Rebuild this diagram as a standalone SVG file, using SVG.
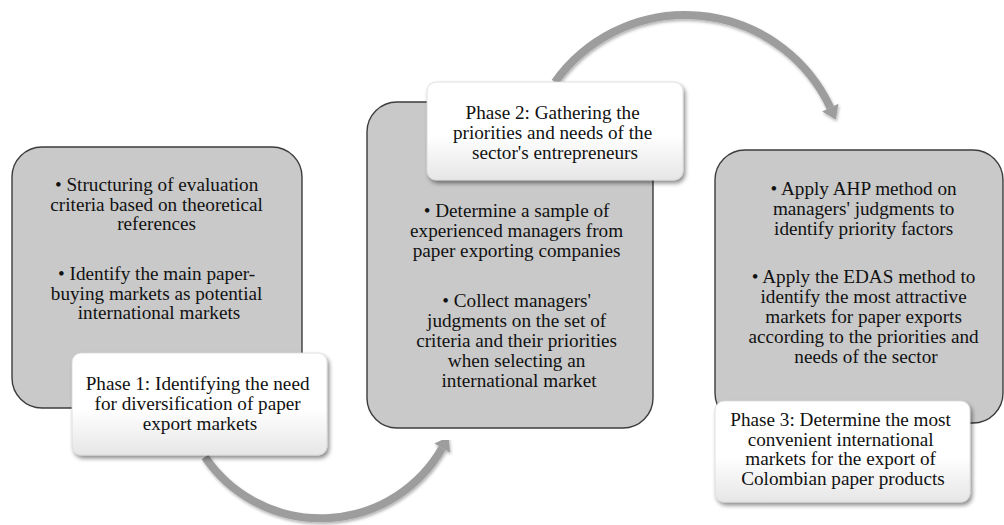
<svg xmlns="http://www.w3.org/2000/svg" width="1004" height="525" viewBox="0 0 1004 525">
  <style>
    .box { fill: #c9c9c9; stroke: #3c3c3c; stroke-width: 1.4; }
    .label { fill: url(#labelGrad); stroke: #d8d8d8; stroke-width: 0.8; filter: url(#shadow); }
    .txt { font-family: "Liberation Serif", "Times New Roman", serif; font-size: 19.2px; fill: #111; text-anchor: middle; }
    .arrow { fill: none; stroke: #9d9d9d; stroke-width: 8; filter: url(#ashadow); }
  </style>
  <defs>
    <linearGradient id="labelGrad" x1="0" y1="0" x2="0" y2="1">
      <stop offset="0" stop-color="#ffffff"/>
      <stop offset="0.55" stop-color="#ffffff"/>
      <stop offset="1" stop-color="#e6e6e6"/>
    </linearGradient>
    <filter id="shadow" x="-10%" y="-10%" width="125%" height="135%">
      <feDropShadow dx="2" dy="3" stdDeviation="2" flood-color="#000" flood-opacity="0.45"/>
    </filter>
    <filter id="ashadow" x="-10%" y="-10%" width="125%" height="135%">
      <feDropShadow dx="1" dy="2" stdDeviation="1.5" flood-color="#000" flood-opacity="0.3"/>
    </filter>
    <marker id="head" markerUnits="userSpaceOnUse" markerWidth="16" markerHeight="20" refX="0" refY="9" orient="auto" overflow="visible">
      <path d="M0,0 L13,9 L0,18 z" fill="#9d9d9d"/>
    </marker>
  </defs>

  <g id="connectors">
    <path class="arrow" d="M205,457 A140,140 0 0 0 442.2,448" marker-end="url(#head)"/>
    <path class="arrow" d="M555,82 A160,160 0 0 1 830.3,107.6" marker-end="url(#head)"/>
  </g>

  <g id="phase1">
    <rect class="box" x="12" y="147" width="290" height="261" rx="30" ry="30"/>
    <text class="txt">
      <tspan x="159" y="191">• Structuring of evaluation</tspan>
      <tspan x="159" y="210.7">criteria based on theoretical</tspan>
      <tspan x="159" y="230.4">references</tspan>
      <tspan x="159" y="280">• Identify the main paper-</tspan>
      <tspan x="159" y="299.7">buying markets as potential</tspan>
      <tspan x="159" y="319.4">international markets</tspan>
    </text>
    <rect class="label" x="72" y="353" width="255" height="102" rx="9" ry="9"/>
    <text class="txt">
      <tspan x="200" y="390">Phase 1: Identifying the need</tspan>
      <tspan x="200" y="410">for diversification of paper</tspan>
      <tspan x="200" y="430">export markets</tspan>
    </text>
  </g>

  <g id="phase2">
    <rect class="box" x="367" y="102" width="286" height="326" rx="30" ry="30"/>
    <rect class="label" x="427" y="82" width="256" height="98" rx="9" ry="9"/>
    <text class="txt">
      <tspan x="555" y="118.5">Phase 2: Gathering the</tspan>
      <tspan x="555" y="138.5">priorities and needs of the</tspan>
      <tspan x="555" y="158.5">sector's entrepreneurs</tspan>
    </text>
    <text class="txt">
      <tspan x="519" y="217">• Determine a sample of</tspan>
      <tspan x="519" y="237">experienced managers from</tspan>
      <tspan x="519" y="257">paper exporting companies</tspan>
      <tspan x="519" y="307">• Collect managers'</tspan>
      <tspan x="519" y="327">judgments on the set of</tspan>
      <tspan x="519" y="347">criteria and their priorities</tspan>
      <tspan x="519" y="367">when selecting an</tspan>
      <tspan x="519" y="387">international market</tspan>
    </text>
  </g>

  <g id="phase3">
    <rect class="box" x="715" y="150" width="288" height="273" rx="30" ry="30"/>
    <text class="txt">
      <tspan x="866" y="195">• Apply AHP method on</tspan>
      <tspan x="866" y="215">managers' judgments to</tspan>
      <tspan x="866" y="234.5">identify priority factors</tspan>
      <tspan x="866" y="283">• Apply the EDAS method to</tspan>
      <tspan x="866" y="303">identify the most attractive</tspan>
      <tspan x="866" y="323">markets for paper exports</tspan>
      <tspan x="866" y="343">according to the priorities and</tspan>
      <tspan x="866" y="363">needs of the sector</tspan>
    </text>
    <rect class="label" x="715" y="401" width="255" height="101" rx="9" ry="9"/>
    <text class="txt">
      <tspan x="843" y="426">Phase 3: Determine the most</tspan>
      <tspan x="843" y="445.5">convenient international</tspan>
      <tspan x="843" y="465">markets for the export of</tspan>
      <tspan x="843" y="484.5">Colombian paper products</tspan>
    </text>
  </g>
</svg>
